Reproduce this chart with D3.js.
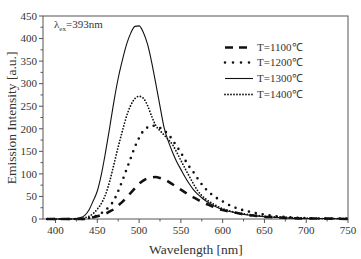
<!DOCTYPE html>
<html><head><meta charset="utf-8">
<script src="https://cdn.jsdelivr.net/npm/d3@7"></script>
<style>
body{margin:0;background:#fff;}
svg text{font-family:"Liberation Serif","Times New Roman",serif;}
</style></head>
<body><svg id="c" width="361" height="259"></svg>
<script>
const wavelengths = [390,400,410,420,430,435,440,445,450,455,460,465,470,475,480,485,490,495,500,505,510,515,520,525,530,535,540,545,550,555,560,565,570,575,580,590,600,610,620,630,640,650,660,680,700,720,750];
const t1100 = [0,0,0,0,0,0,2,4,6,9,12,17,22,30,38,48,58,68,78,85,90,92,93,91,88,83,77,71,65,59,53,48,43,38,34,26,20,16,12,9,7,5,4,2,1,1,0];
const t1200 = [0,0,0,0,0,1,2,4,8,13,20,29,42,62,85,110,135,160,180,195,203,207,206,202,196,188,175,161,147,131,116,104,90,77,66,50,39,29,22,17,13,10,7,4,2,1,1];
const t1300 = [0,0,0,0,3,8,20,40,62,100,150,205,262,312,352,387,412,427,428,414,388,348,300,250,202,172,148,127,110,93,78,65,55,47,40,29,21,16,12,9,7,5,4,2,1,1,0];
const t1400 = [0,0,0,0,1,3,6,12,22,35,55,85,122,160,195,228,252,267,272,268,252,228,207,196,186,176,165,148,130,112,95,78,63,52,44,32,23,17,13,10,8,6,5,3,2,1,1];
const seriesNames = ["T=1100\u2103","T=1200\u2103","T=1300\u2103","T=1400\u2103"];
const xTicks = [400,450,500,550,600,650,700,750];
const yTicks = [0,50,100,150,200,250,300,350,400,450];

const FONT = "Liberation Serif";
const svg = d3.select("#c");
const x = d3.scaleLinear().domain([385,750]).range([43,348]);
const y = d3.scaleLinear().domain([0,450]).range([219,16]);
const ink = "#333";

// box
svg.append("rect").attr("x",43).attr("y",16).attr("width",305).attr("height",203)
  .attr("fill","none").attr("stroke","#555").attr("stroke-width",1);

// x axis
const xMinor = d3.range(425,750,50);
const gx = svg.append("g").attr("transform","translate(0,219)");
gx.selectAll("line.maj").data(xTicks).join("line").attr("x1",d=>x(d)).attr("x2",d=>x(d)).attr("y1",0).attr("y2",4).attr("stroke","#555");
gx.selectAll("line.min").data(xMinor).join("line").attr("x1",d=>x(d)).attr("x2",d=>x(d)).attr("y1",0).attr("y2",2.5).attr("stroke","#555");
gx.selectAll("text").data(xTicks).join("text").attr("x",d=>x(d)).attr("y",14.5).attr("text-anchor","middle")
  .attr("font-family",FONT).attr("font-size",11).attr("fill",ink).text(d=>d);

// y axis
const yMinor = d3.range(25,450,50);
const gy = svg.append("g").attr("transform","translate(43,0)");
gy.selectAll("line.maj").data(yTicks).join("line").attr("x1",-4).attr("x2",0).attr("y1",d=>y(d)).attr("y2",d=>y(d)).attr("stroke","#555");
gy.selectAll("line.min").data(yMinor).join("line").attr("x1",-2.5).attr("x2",0).attr("y1",d=>y(d)).attr("y2",d=>y(d)).attr("stroke","#555");
gy.selectAll("text").data(yTicks).join("text").attr("x",-6).attr("y",d=>y(d)+3.8).attr("text-anchor","end")
  .attr("font-family",FONT).attr("font-size",11).attr("fill",ink).text(d=>d);

// titles
svg.append("text").attr("x",196).attr("y",254).attr("text-anchor","middle").attr("font-family",FONT).attr("font-size",13.5).attr("fill",ink).text("Wavelength [nm]");
svg.append("text").attr("transform","translate(16,118) rotate(-90)").attr("text-anchor","middle").attr("font-family",FONT).attr("font-size",13.5).attr("fill",ink).text("Emission Intensity [a.u.]");

// annotation
const ann = svg.append("text").attr("x",54).attr("y",28).attr("font-family",FONT).attr("font-size",11).attr("fill",ink);
ann.append("tspan").text("\u03bb");
ann.append("tspan").attr("font-size",7).attr("dy",2.5).text("ex");
ann.append("tspan").attr("dy",-2.5).text("=393nm");

// series
const styles = [
  {data:t1100, w:2.6, dash:"8 7", cap:"butt"},
  {data:t1200, w:2.6, dash:"0 7", cap:"round"},
  {data:t1300, w:1.1, dash:null, cap:"butt"},
  {data:t1400, w:1.8, dash:"0 3", cap:"round"}
];
const line = d3.line().x((d,i)=>x(wavelengths[i])).y(d=>y(d)).curve(d3.curveMonotoneX);
styles.forEach(s=>{
  const p = svg.append("path").attr("d",line(s.data)).attr("fill","none").attr("stroke","#111")
    .attr("stroke-width",s.w).attr("stroke-linecap",s.cap);
  if(s.dash) p.attr("stroke-dasharray",s.dash);
});

// legend
const lg = svg.append("g");
const legY = [51,66,82,98];
const legStyles = [
  {w:2.6, dash:"8 6", cap:"butt"},
  {w:2.6, dash:"0 8", cap:"round"},
  {w:1.1, dash:null, cap:"butt"},
  {w:1.8, dash:"0 3", cap:"round"}
];
seriesNames.forEach((n,i)=>{
  const s = legStyles[i];
  const l = lg.append("line").attr("x1",225).attr("x2",253).attr("y1",legY[i]-3.5).attr("y2",legY[i]-3.5)
    .attr("stroke","#111").attr("stroke-width",s.w).attr("stroke-linecap",s.cap);
  if(s.dash) l.attr("stroke-dasharray",s.dash);
  lg.append("text").attr("x",257).attr("y",legY[i]).attr("font-family",FONT).attr("font-size",11).attr("fill",ink).text(n);
});
</script></body></html>
